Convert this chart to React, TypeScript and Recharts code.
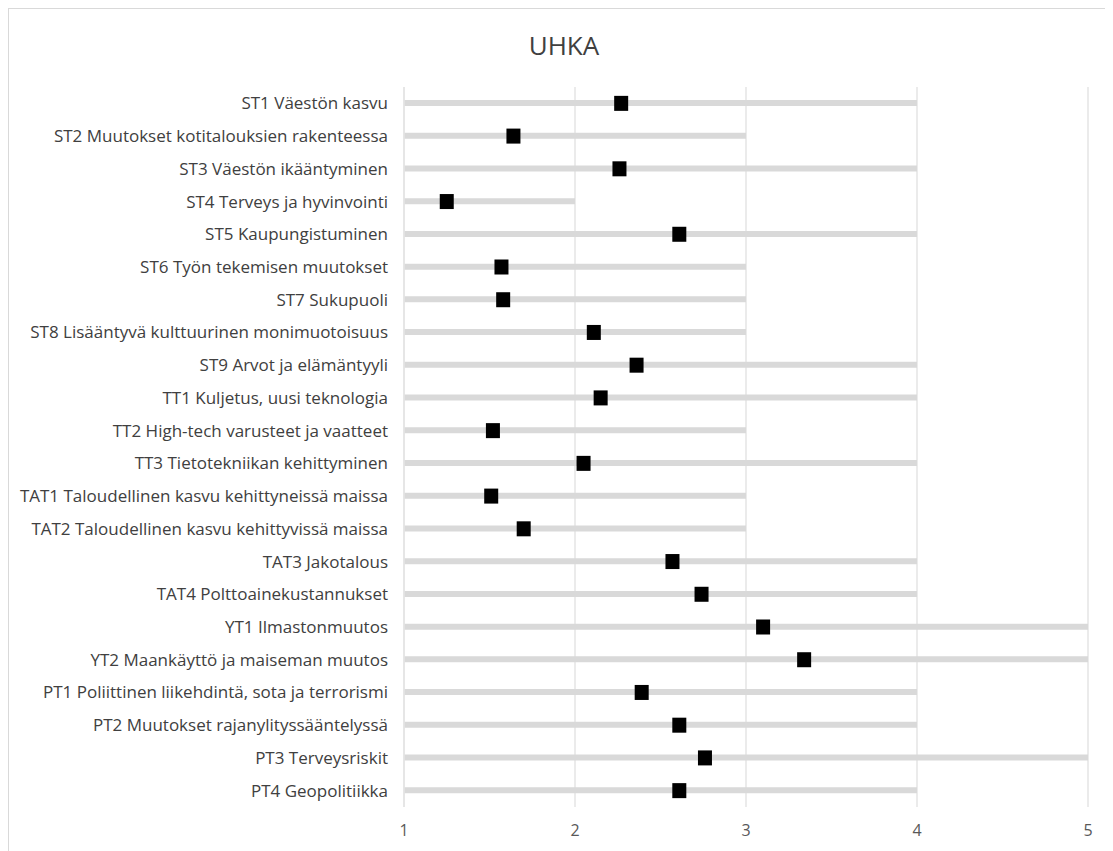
import React from "react";
import {
  ComposedChart,
  Bar,
  Line,
  XAxis,
  YAxis,
  CartesianGrid,
} from "recharts";

// Category labels, top to bottom
const labels: string[] = [
  "ST1 Väestön kasvu ",
  "ST2 Muutokset kotitalouksien rakenteessa",
  "ST3 Väestön ikääntyminen ",
  "ST4 Terveys ja hyvinvointi",
  "ST5 Kaupungistuminen",
  "ST6 Työn tekemisen muutokset",
  "ST7 Sukupuoli",
  "ST8 Lisääntyvä kulttuurinen monimuotoisuus",
  "ST9 Arvot ja elämäntyyli",
  "TT1 Kuljetus, uusi teknologia ",
  "TT2 High-tech varusteet ja vaatteet",
  "TT3 Tietotekniikan kehittyminen",
  "TAT1 Taloudellinen kasvu kehittyneissä maissa",
  "TAT2 Taloudellinen kasvu kehittyvissä maissa",
  "TAT3 Jakotalous",
  "TAT4 Polttoainekustannukset",
  "YT1 Ilmastonmuutos",
  "YT2 Maankäyttö ja maiseman muutos",
  "PT1 Poliittinen liikehdintä, sota ja terrorismi",
  "PT2 Muutokset rajanylityssääntelyssä",
  "PT3 Terveysriskit",
  "PT4 Geopolitiikka",
];

// Highest answer given for each item (gray bar runs from 1 up to this)
const maxValues: number[] = [
  4, 3, 4, 2, 4, 3, 3, 3, 4, 4, 3, 4, 3, 3, 4, 4, 5, 5, 4, 4, 5, 4,
];

// Mean answer for each item (black square)
const meanValues: number[] = [
  2.27, 1.64, 2.26, 1.25, 2.61, 1.57, 1.58, 2.11, 2.36, 2.15, 1.52, 2.05,
  1.51, 1.7, 2.57, 2.74, 3.1, 3.34, 2.39, 2.61, 2.76, 2.61,
];

const xTicks: number[] = [1, 2, 3, 4, 5];

const AXIS_MIN = 1;

const data = labels.map((name, i) => ({
  name,
  max: maxValues[i],
  mean: meanValues[i],
}));

const FONT = "'Open Sans', 'Liberation Sans', sans-serif";
const GRID = "#e4e4e4";

const SquareDot = (props: any) => {
  const { cx, cy, index } = props;
  if (cx == null || cy == null) return null;
  return (
    <rect
      key={`sq-${index}`}
      x={cx - 7}
      y={cy - 7.5}
      width={14}
      height={15}
      fill="#000000"
    />
  );
};

const App: React.FC = () => {
  return (
    <div
      style={{
        position: "relative",
        width: 1104,
        height: 842,
        borderTop: "1px solid #d9d9d9",
        borderLeft: "1px solid #d9d9d9",
        fontFamily: FONT,
      }}
    >
      <div
        style={{
          position: "absolute",
          top: 18,
          left: 0,
          width: 1110,
          textAlign: "center",
          fontSize: 26,
          color: "#404040",
        }}
      >
        UHKA
      </div>
      <ComposedChart
        width={1104}
        height={842}
        data={data}
        layout="vertical"
        margin={{ top: 78, right: 25, bottom: 14, left: 0 }}
      >
        <CartesianGrid horizontal={false} stroke={GRID} strokeWidth={1.5} />
        <XAxis
          type="number"
          domain={[AXIS_MIN, 5]}
          ticks={xTicks}
          axisLine={false}
          tickLine={false}
          tickSize={0}
          tickMargin={18}
          height={30}
          tick={{ fill: "#595959", fontSize: 16, fontFamily: FONT }}
        />
        <YAxis
          type="category"
          dataKey="name"
          width={395}
          axisLine={{ stroke: GRID, strokeWidth: 1.5 }}
          tickLine={false}
          tickSize={0}
          tickMargin={16}
          interval={0}
          tick={{ fill: "#404040", fontSize: 17, fontFamily: FONT }}
        />
        <Bar
          dataKey={(d: any) => [AXIS_MIN, d.max]}
          barSize={6}
          fill="#d9d9d9"
          isAnimationActive={false}
        />
        <Line
          dataKey="mean"
          stroke="none"
          dot={<SquareDot />}
          activeDot={false}
          isAnimationActive={false}
        />
      </ComposedChart>
    </div>
  );
};

export default App;
